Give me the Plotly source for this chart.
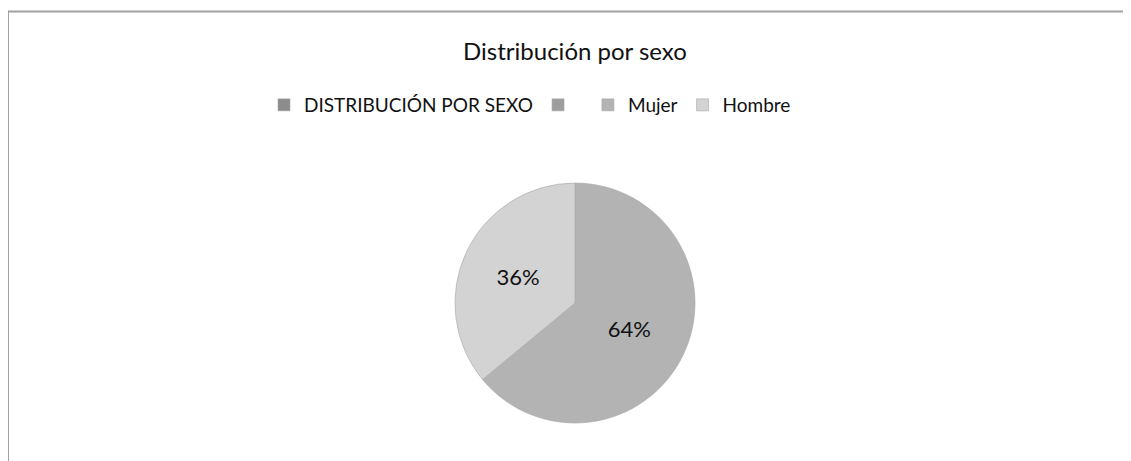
import plotly.graph_objects as go

title_text = "Distribución por sexo"
labels = ["DISTRIBUCIÓN POR SEXO", " ", "Mujer", "Hombre"]
values = [0, 0, 64, 36]
colors = ["#8c8c8c", "#9d9d9d", "#b3b3b3", "#d3d3d3"]
text_templates = ["", "", "%{percent:.0%}", "%{percent:.0%}"]

# page has an 8px body margin; work in figure coordinates
W, H = 1123, 453
cx, cy, r = 567, 295, 120

fig = go.Figure()
fig.add_trace(go.Pie(
    labels=labels,
    values=values,
    sort=False,
    direction="clockwise",
    rotation=0,
    marker=dict(colors=colors, line=dict(color="#a8a8a8", width=0.6)),
    texttemplate=text_templates,
    textposition="inside",
    insidetextorientation="horizontal",
    textfont=dict(family="Lato", size=22, color="#111111"),
    hoverinfo="label+percent",
    domain=dict(x=[(cx - r) / W, (cx + r) / W], y=[(H - cy - r) / H, (H - cy + r) / H]),
))

fig.update_layout(
    width=W, height=H,
    margin=dict(l=0, r=0, t=0, b=0),
    paper_bgcolor="white",
    plot_bgcolor="white",
    font=dict(family="Lato", color="#111111"),
    title=dict(text=title_text, x=567 / W, xanchor="center", y=1 - 44 / H, yanchor="middle",
               font=dict(family="Lato", size=24, color="#111111")),
    legend=dict(orientation="h", x=522 / W, xanchor="center", y=1 - 97 / H, yanchor="middle",
                font=dict(family="Lato", size=19, color="#111111"), itemwidth=30,
                traceorder="normal"),
    shapes=[
        dict(type="line", xref="paper", yref="paper", x0=0, x1=0, y0=0, y1=1 - 3.5 / H,
             line=dict(color="#a0a0a0", width=2)),
        dict(type="line", xref="paper", yref="paper", x0=0, x1=1, y0=1 - 3.5 / H, y1=1 - 3.5 / H,
             line=dict(color="#a0a0a0", width=2)),
    ],
)

fig.write_html("out.html")
